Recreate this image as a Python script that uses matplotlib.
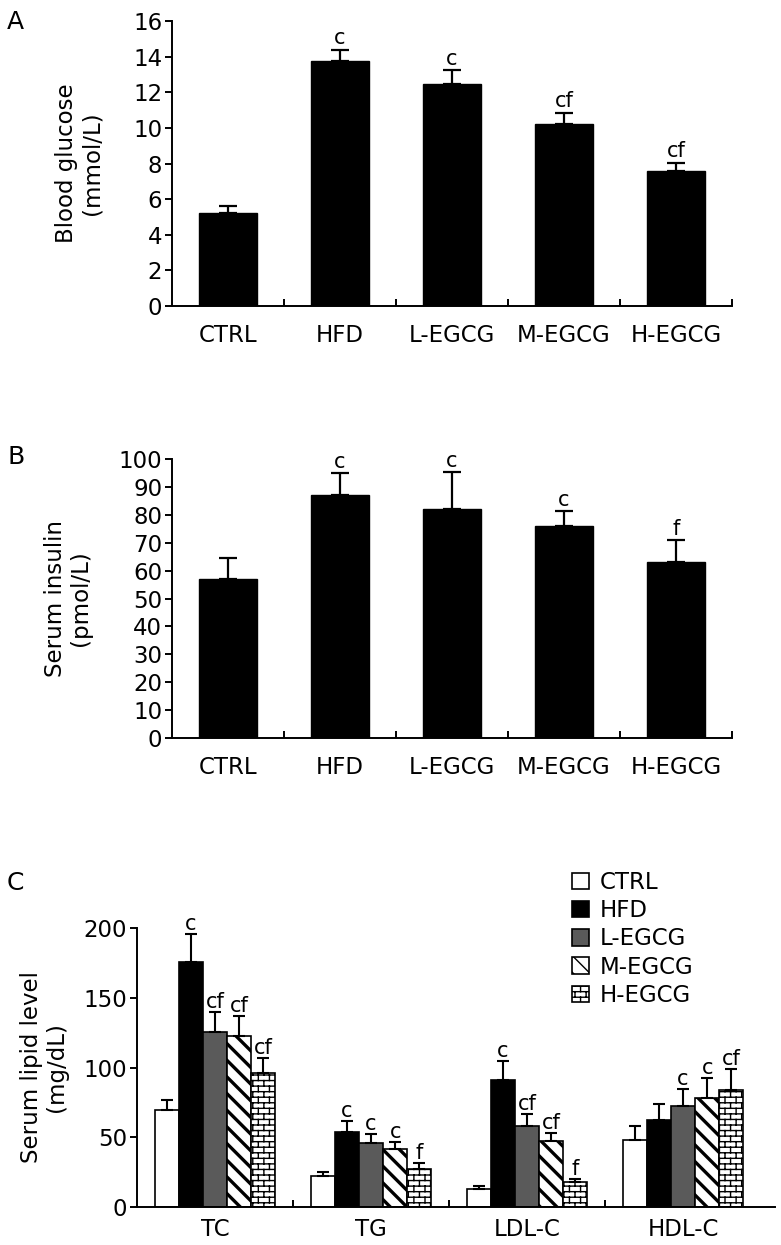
import numpy as np
import matplotlib
matplotlib.use("Agg")
import matplotlib.pyplot as plt
import matplotlib.hatch as mhatch
from matplotlib.path import Path
from matplotlib.patches import Patch

# ---- data -------------------------------------------------------------
groups = ["CTRL", "HFD", "L-EGCG", "M-EGCG", "H-EGCG"]

glucose = [5.2, 13.75, 12.45, 10.2, 7.6]
glucose_err = [0.4, 0.65, 0.8, 0.65, 0.45]
glucose_sig = ["", "c", "c", "cf", "cf"]

insulin = [57.1, 87.2, 82.1, 76.1, 63.2]
insulin_err = [7.3, 7.8, 13.1, 5.3, 7.7]
insulin_sig = ["", "c", "c", "c", "f"]

lipids = ["TC", "TG", "LDL-C", "HDL-C"]
ctrl_lipid = [69.3, 22.0, 12.7, 48.3]
ctrl_lipid_err = [7.6, 3.0, 2.1, 9.5]
hfd_lipid = [175.6, 53.8, 91.3, 62.6]
hfd_lipid_err = [20.4, 7.6, 13.4, 11.5]
l_lipid = [125.2, 45.9, 58.3, 72.2]
l_lipid_err = [14.6, 6.7, 8.1, 12.6]
m_lipid = [122.8, 41.8, 47.1, 78.4]
m_lipid_err = [13.9, 4.8, 5.9, 14.3]
h_lipid = [96.1, 27.5, 17.9, 84.1]
h_lipid_err = [10.9, 4.3, 2.4, 15.1]
ctrl_sig = ["", "", "", ""]
hfd_sig = ["c", "c", "c", ""]
l_sig = ["cf", "c", "cf", "c"]
m_sig = ["cf", "c", "cf", "c"]
h_sig = ["cf", "f", "f", "cf"]


# brick hatch: '-' gives the mortar rows, this adds staggered joints
class BrickJoints(mhatch.HatchPatternBase):
    def __init__(self, hatch, density):
        self.rows = int(hatch.count("-") * density)
        if self.rows % 2:
            self.rows += 1
        self.per_row = self.rows // 2 if hatch.count("-") else 0
        # row 0 is split across the tile edge, so it is drawn twice
        self.num_vertices = (self.rows + 1) * self.per_row * 2

    def set_vertices_and_codes(self, vertices, codes):
        n, b = self.rows, self.per_row
        spans = [((k - 0.5) / n, (k + 0.5) / n, k) for k in range(1, n)]
        spans += [(0.0, 0.5 / n, 0), (1 - 0.5 / n, 1.0, 0)]
        i = 0
        for y0, y1, k in spans:
            for j in range(b):
                x = (j + 0.25 + 0.5 * (k % 2)) / b
                vertices[i] = (x, y0)
                vertices[i + 1] = (x, y1)
                codes[i] = Path.MOVETO
                codes[i + 1] = Path.LINETO
                i += 2


try:
    mhatch._hatch_types.append(BrickJoints)
    BRICK = "---"
except AttributeError:
    BRICK = "+++"

# ---- style ------------------------------------------------------------
plt.rcParams["font.family"] = ["DejaVu Sans"]
FS = 16.5
LW = 1.4

fig = plt.figure(figsize=(7.81, 12.45), dpi=100)


def style_axes(ax):
    for s in ("top", "right"):
        ax.spines[s].set_visible(False)
    for s in ("left", "bottom"):
        ax.spines[s].set_linewidth(LW)
    ax.tick_params(axis="y", direction="out", length=5, width=LW, labelsize=FS, pad=2)
    ax.tick_params(axis="x", which="major", length=0, pad=13)
    ax.tick_params(axis="x", which="minor", direction="in", length=5, width=LW)


def simple_panel(rect, vals, errs, sig, ymax, ystep, ylabel, label_x):
    ax = fig.add_axes(rect)
    x = np.arange(len(groups))
    ax.bar(x, vals, width=0.52, color="black", edgecolor="black", linewidth=1,
           yerr=[np.zeros(len(vals)), errs], capsize=6.5,
           error_kw=dict(elinewidth=1.6, capthick=1.6, ecolor="black"))
    for xi, v, e, s in zip(x, vals, errs, sig):
        if s:
            ax.annotate(s, (xi, v + e), xytext=(0, 1), textcoords="offset points",
                        ha="center", va="bottom", fontsize=15)
    ax.set_xlim(-0.5, len(groups) - 0.5)
    ax.set_ylim(0, ymax)
    ax.set_yticks(np.arange(0, ymax + 1e-9, ystep))
    ax.set_xticks(x)
    ax.set_xticklabels(groups, fontsize=FS)
    ax.set_xticks(np.arange(0.5, len(groups), 1), minor=True)
    style_axes(ax)
    ax.set_ylabel(ylabel, fontsize=FS, linespacing=1.1)
    ax.yaxis.set_label_coords(label_x, 0.5)
    return ax


simple_panel([0.2202, 0.7542, 0.717, 0.2289], glucose, glucose_err, glucose_sig,
             16, 2, "Blood glucose\n(mmol/L)", -0.123)
simple_panel([0.2202, 0.4072, 0.717, 0.2241], insulin, insulin_err, insulin_sig,
             100, 10, "Serum insulin\n(pmol/L)", -0.143)

# ---- panel C ----------------------------------------------------------
axc = fig.add_axes([0.1754, 0.0305, 0.8169, 0.2241])
series = [
    ("CTRL", ctrl_lipid, ctrl_lipid_err, ctrl_sig, "white", "", 1.0),
    ("HFD", hfd_lipid, hfd_lipid_err, hfd_sig, "black", "", 1.0),
    ("L-EGCG", l_lipid, l_lipid_err, l_sig, "#5a5a5a", "", 1.0),
    ("M-EGCG", m_lipid, m_lipid_err, m_sig, "white", "\\\\", 2.4),
    ("H-EGCG", h_lipid, h_lipid_err, h_sig, "white", BRICK, 1.0),
]
w = 0.155
xg = np.arange(len(lipids))
handles = []
for i, (name, vals, errs, sig, fc, hatch, hlw) in enumerate(series):
    xs = xg + (i - 2) * w
    with plt.rc_context({"hatch.linewidth": hlw}):
        axc.bar(xs, vals, width=w, color=fc, edgecolor="black", linewidth=1.2, hatch=hatch,
                yerr=[np.zeros(len(vals)), errs], capsize=4.5,
                error_kw=dict(elinewidth=1.5, capthick=1.5, ecolor="black"))
        handles.append(Patch(facecolor=fc, edgecolor="black", hatch=hatch, linewidth=1.2,
                             label=name))
    for xi, v, e, s in zip(xs, vals, errs, sig):
        if s:
            axc.annotate(s, (xi, v + e), xytext=(0, 0), textcoords="offset points",
                         ha="center", va="bottom", fontsize=15)

axc.set_xlim(-0.5, 3.59)
axc.set_ylim(0, 200)
axc.set_yticks(np.arange(0, 201, 50))
axc.set_xticks(xg)
axc.set_xticklabels(lipids, fontsize=FS)
axc.set_xticks(np.arange(0.5, len(lipids) - 1, 1), minor=True)
style_axes(axc)
axc.tick_params(axis="x", which="major", pad=8)
axc.set_ylabel("Serum lipid level\n(mg/dL)", fontsize=FS, linespacing=1.1)
axc.yaxis.set_label_coords(-0.108, 0.5)
axc.legend(handles=handles, loc="upper left", bbox_to_anchor=(0.682, 1.205), frameon=False,
           fontsize=FS, handlelength=0.74, handleheight=0.74, handletextpad=0.48,
           labelspacing=0.23, borderpad=0, borderaxespad=0)

# ---- panel letters ----------------------------------------------------
for lbl, y in (("A", 1 - 22 / 1245), ("B", 1 - 457 / 1245), ("C", 1 - 883 / 1245)):
    fig.text(0.009, y, lbl, fontsize=18, ha="left", va="center")

fig.savefig("out.png", dpi=100)
